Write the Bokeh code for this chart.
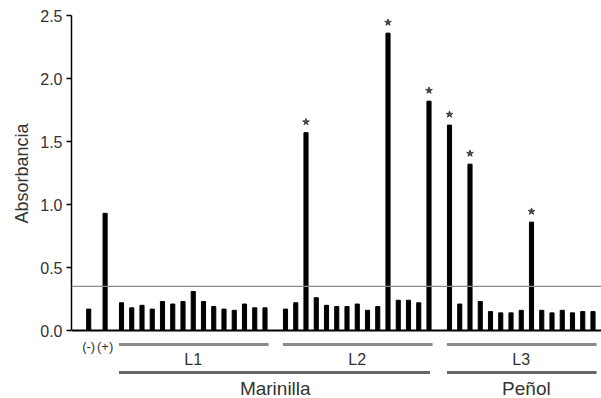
from bokeh.plotting import figure
from bokeh.models import Range1d, Span, FixedTicker, PrintfTickFormatter, Title
from bokeh.core.properties import value
from bokeh.embed import file_html
from bokeh.resources import INLINE

# ---- data ----
control_labels = ["(-)", "(+)"]
control_values = [0.17, 0.93]

group_labels = ["L1", "L2", "L3"]
region_labels = ["Marinilla", "Peñol"]
region_groups = [["L1", "L2"], ["L3"]]

L1_values = [0.22, 0.18, 0.20, 0.17, 0.23, 0.21, 0.23, 0.31, 0.23, 0.19, 0.17, 0.16, 0.21, 0.18, 0.18]
L2_values = [0.17, 0.22, 1.57, 0.26, 0.20, 0.19, 0.19, 0.21, 0.16, 0.19, 2.36, 0.24, 0.24, 0.22, 1.82]
L3_values = [1.63, 0.21, 1.32, 0.23, 0.15, 0.14, 0.14, 0.16, 0.86, 0.16, 0.14, 0.16, 0.14, 0.15, 0.15]

L1_signif = [0] * 15
L2_signif = [0, 0, 1, 0, 0, 0, 0, 0, 0, 0, 1, 0, 0, 0, 1]
L3_signif = [1, 0, 1, 0, 0, 0, 0, 0, 1, 0, 0, 0, 0, 0, 0]

threshold = 0.35
y_ticks = [0.0, 0.5, 1.0, 1.5, 2.0, 2.5]
y_label = "Absorbancia"

# ---- layout (slot units) ----
groups = {"L1": (L1_values, L1_signif), "L2": (L2_values, L2_signif), "L3": (L3_values, L3_signif)}
control_x = [-3.2, -1.6]
group_start = {}
xs, ys, sig_x, sig_y = [], [], [], []
start = 0
for g in group_labels:
    vals, sig = groups[g]
    group_start[g] = start
    for i, (v, s) in enumerate(zip(vals, sig)):
        xs.append(start + i)
        ys.append(v)
        if s:
            sig_x.append(start + i)
            sig_y.append(v + 0.085)
    start += len(vals) + 1

PX = 126.0  # pixels per absorbance unit
def py(pix_below_zero):
    return -pix_below_zero / PX

W, H = 601, 398
LEFT = 71
p = figure(width=W, height=H, output_backend="svg", toolbar_location=None,
           x_axis_location=None, title=None,
           x_range=Range1d(-50 / 10.25, (601 - 121) / 10.25),
           y_range=Range1d(-68 / PX, 2.5 + 15 / PX),
           min_border_left=LEFT, min_border_right=0, min_border_top=0, min_border_bottom=0)
p.outline_line_color = None
p.xgrid.visible = False
p.ygrid.visible = False
p.background_fill_color = "white"
p.border_fill_color = "white"

font = "Liberation Sans"
yax = p.yaxis[0]
yax.ticker = FixedTicker(ticks=y_ticks)
yax.formatter = PrintfTickFormatter(format="%.1f")
yax.bounds = (0, 2.5)
yax.axis_line_color = "black"
yax.axis_line_width = 1.5
yax.major_tick_line_color = "black"
yax.major_tick_line_width = 1.5
yax.major_tick_out = 5
yax.major_tick_in = 0
yax.minor_tick_line_color = None
yax.major_label_text_font = font
yax.major_label_text_font_size = "16px"
yax.major_label_text_color = "#333333"
yax.major_label_standoff = 4

# axis title as a side title, shifted so it centres on the 0..2.5 span
p.add_layout(Title(text=y_label, align="right", offset=123, text_font=font,
                   text_font_size="18px", text_font_style="normal",
                   text_color="#333333", standoff=12), "left")

# threshold and baseline
p.add_layout(Span(location=threshold, dimension="width", line_color="#8c8c8c", line_width=1.2))
p.add_layout(Span(location=0, dimension="width", line_color="black", line_width=2))

# bars
p.vbar(x=control_x, top=control_values, bottom=0, width=0.4, color="black")
p.vbar(x=xs, top=ys, bottom=0, width=0.4, color="black")

# significance stars
p.scatter(x=sig_x, y=sig_y, marker="star", size=7, fill_color="#444444", line_color="#444444")

# control labels
p.text(x=control_x, y=[py(16)] * 2, text=control_labels, text_font=value(font),
       text_font_size="13px", text_color="#333333", text_align="center", text_baseline="middle")

# group lines + labels
gx0, gx1, gxc = [], [], []
for g in group_labels:
    n = len(groups[g][0])
    s = group_start[g]
    gx0.append(s - 0.25)
    gx1.append(s + n - 1 + 0.35)
    gxc.append(s + (n - 1) / 2)
p.segment(x0=gx0, x1=gx1, y0=[py(14)] * 3, y1=[py(14)] * 3, line_color="#8a8a8a", line_width=3)
p.text(x=gxc, y=[py(29)] * 3, text=group_labels, text_font=value(font), text_font_size="16px",
       text_color="#333333", text_align="center", text_baseline="middle")

# region lines + labels
rx0, rx1, rxc = [], [], []
for gl in region_groups:
    a = group_start[gl[0]]
    b = group_start[gl[-1]] + len(groups[gl[-1]][0]) - 1
    rx0.append(a - 0.25)
    rx1.append(b + 0.1 if len(gl) > 1 else b + 0.35)
    rxc.append((a + b) / 2 + (0 if len(gl) > 1 else 0.5))
p.segment(x0=rx0, x1=rx1, y0=[py(42)] * 2, y1=[py(42)] * 2, line_color="#666666", line_width=3)
p.text(x=rxc, y=[py(58)] * 2, text=region_labels, text_font=value(font), text_font_size="19px",
       text_color="#333333", text_align="center", text_baseline="middle")

open("out.html", "w").write(file_html(p, INLINE))
